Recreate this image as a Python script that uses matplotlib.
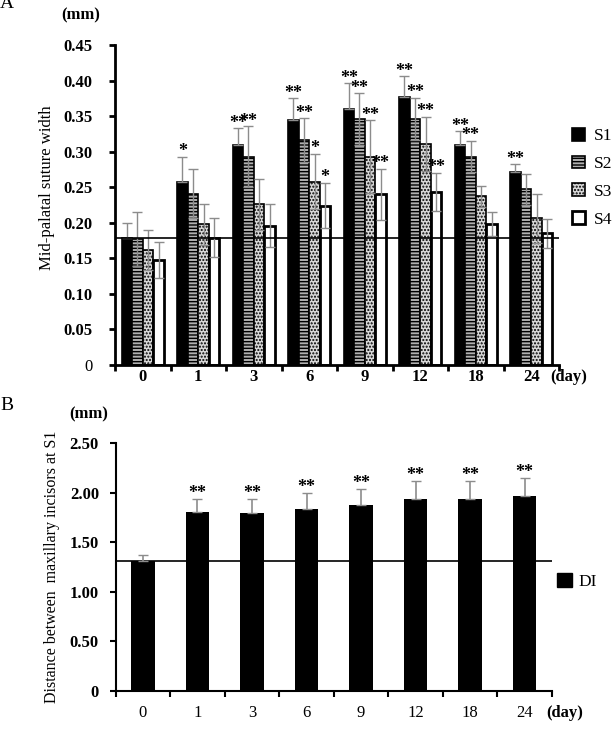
import numpy as np
import matplotlib
matplotlib.use("Agg")
from matplotlib import pyplot as plt

plt.rcParams['font.family'] = ['Liberation Serif', 'DejaVu Serif']
plt.rcParams['hatch.linewidth'] = 1.0

days = ['0', '1', '3', '6', '9', '12', '18', '24']

# panel A: mid-palatal suture width (mm), mean and upper error
series_names = ['S1', 'S2', 'S3', 'S4']
s1_mean = [0.178, 0.257, 0.309, 0.345, 0.360, 0.377, 0.309, 0.271]
s1_err = [0.022, 0.036, 0.024, 0.030, 0.036, 0.029, 0.020, 0.011]
s2_mean = [0.177, 0.241, 0.293, 0.316, 0.346, 0.346, 0.293, 0.247]
s2_err = [0.038, 0.034, 0.043, 0.031, 0.036, 0.030, 0.022, 0.022]
s3_mean = [0.162, 0.198, 0.226, 0.258, 0.293, 0.311, 0.237, 0.206]
s3_err = [0.028, 0.029, 0.036, 0.039, 0.051, 0.038, 0.015, 0.035]
s4_mean = [0.148, 0.179, 0.196, 0.224, 0.240, 0.243, 0.198, 0.185]
s4_err = [0.025, 0.027, 0.030, 0.032, 0.036, 0.027, 0.017, 0.020]
s1_sig = ['', '*', '**', '**', '**', '**', '**', '**']
s2_sig = ['', '', '**', '**', '**', '**', '**', '']
s3_sig = ['', '', '', '*', '**', '**', '', '']
s4_sig = ['', '', '', '*', '**', '**', '', '']
baseline_a = 0.178
yticks_a = [0, 0.05, 0.10, 0.15, 0.20, 0.25, 0.30, 0.35, 0.40, 0.45]

# panel B: distance between maxillary incisors at S1 (mm)
di_mean = [1.31, 1.81, 1.80, 1.84, 1.88, 1.94, 1.94, 1.97]
di_err = [0.06, 0.13, 0.14, 0.16, 0.16, 0.18, 0.18, 0.18]
di_sig = ['', '**', '**', '**', '**', '**', '**', '**']
baseline_b = 1.31
yticks_b = [0, 0.5, 1.0, 1.5, 2.0, 2.5]

fig = plt.figure(figsize=(6.15, 7.55), dpi=100)
axA = fig.add_axes([0.187, 0.5166, 0.722, 0.4238])
axB = fig.add_axes([0.188, 0.0848, 0.7096, 0.328])

x = np.arange(len(days))
w = 0.19
styles = [
    dict(facecolor='black', edgecolor='black', linewidth=1.2),
    dict(facecolor='#b0b0b0', edgecolor='black', linewidth=1.2, hatch='-----'),
    dict(facecolor='#d8d8d8', edgecolor='black', linewidth=1.2, hatch='.....'),
    dict(facecolor='white', edgecolor='black', linewidth=2.0),
]
means = [s1_mean, s2_mean, s3_mean, s4_mean]
errs = [s1_err, s2_err, s3_err, s4_err]
sigs = [s1_sig, s2_sig, s3_sig, s4_sig]

handles = []
for i in range(4):
    pos = x + (i - 1.5) * w
    b = axA.bar(pos, means[i], w, zorder=2, **styles[i])
    handles.append(b)
    err = np.array(errs[i])
    lower = np.zeros_like(err) if i == 0 else err
    axA.errorbar(pos, means[i], yerr=[lower, err], fmt='none', ecolor='#8c8c8c',
                 elinewidth=1, capsize=3.5, capthick=1, zorder=3)
    for p, m, e, s in zip(pos, means[i], err, sigs[i]):
        if s:
            axA.annotate(s, (p, m + e), xytext=(0, -2.5), textcoords='offset points',
                         ha='center', va='bottom', fontsize=13, fontweight='bold')

axA.axhline(baseline_a, color='black', linewidth=1.2, zorder=4)
axA.set_xlim(-0.5, len(days) - 0.5)
axA.set_ylim(0, 0.45)
axA.set_yticks(yticks_a)
axA.set_yticklabels(['0'] + ['%.2f' % v for v in yticks_a[1:]], fontsize=12)
for lab in axA.get_yticklabels()[1:]:
    lab.set_fontweight('bold')
axA.set_xticks(x)
axA.set_xticklabels(days, fontsize=12, fontweight='bold')
axA.set_xticks(np.arange(-0.5, len(days)), minor=True)
axA.tick_params(axis='x', which='major', length=0, pad=3)
axA.tick_params(axis='x', which='minor', length=4, width=2, direction='out')
axA.tick_params(axis='y', length=4, width=2, direction='out', pad=12)
for side in ['top', 'right']:
    axA.spines[side].set_visible(False)
for side in ['left', 'bottom']:
    axA.spines[side].set_linewidth(2)

axA.legend(handles, series_names, loc='upper left', bbox_to_anchor=(572 / 615, 1 - 128 / 755),
           bbox_transform=fig.transFigure, frameon=False, fontsize=12.5, handlelength=0.75,
           handleheight=0.75, handletextpad=0.5, labelspacing=0.65, borderpad=0, borderaxespad=0)

# panel B
axB.bar(x, di_mean, 0.43, color='black', zorder=2)
axB.errorbar(x, di_mean, yerr=[np.zeros(len(di_err)), di_err], fmt='none', ecolor='#8c8c8c',
             elinewidth=1.2, capsize=3.5, capthick=1, zorder=3)
for p, m, e, s in zip(x, di_mean, di_err, di_sig):
    if s:
        axB.annotate(s, (p, m + e), xytext=(0, -2.5), textcoords='offset points',
                     ha='center', va='bottom', fontsize=13, fontweight='bold')
axB.axhline(baseline_b, color='black', linewidth=1.2, zorder=1)
axB.set_xlim(-0.5, len(days) - 0.5)
axB.set_ylim(0, 2.5)
axB.set_yticks(yticks_b)
axB.set_yticklabels(['0'] + ['%.2f' % v for v in yticks_b[1:]], fontsize=12, fontweight='bold')
axB.set_xticks(x)
axB.set_xticklabels(days, fontsize=12)
axB.set_xticks(np.arange(-0.5, len(days)), minor=True)
axB.tick_params(axis='x', which='major', length=0, pad=10)
axB.tick_params(axis='x', which='minor', length=4, width=1.5, direction='out')
axB.tick_params(axis='y', length=4, width=1.5, direction='out', pad=8)
for side in ['top', 'right']:
    axB.spines[side].set_visible(False)
for side in ['left', 'bottom']:
    axB.spines[side].set_linewidth(1.5)

axB.legend([plt.Rectangle((0, 0), 1, 1, color='black')], ['DI'], loc='upper left',
           bbox_to_anchor=(557 / 615, 1 - 573 / 755), bbox_transform=fig.transFigure,
           frameon=False, fontsize=12.5, handlelength=0.85, handleheight=0.85,
           handletextpad=0.4, borderpad=0, borderaxespad=0)

# labels
fig.text(47 / 615, 1 - 188 / 755, 'Mid-palatal suture width', rotation=90,
         ha='center', va='center', fontsize=12)
fig.text(52 / 615, 1 - 567 / 755, 'Distance between  maxillary incisors at S1', rotation=90,
         ha='center', va='center', fontsize=11.5)
fig.text(81 / 615, 1 - 15 / 755, '(mm)', ha='center', va='center', fontsize=12, fontweight='bold')
fig.text(89 / 615, 1 - 414 / 755, '(mm)', ha='center', va='center', fontsize=12, fontweight='bold')
fig.text(550 / 615, 1 - 377 / 755, '(day)', ha='left', va='center', fontsize=12, fontweight='bold')
fig.text(546 / 615, 1 - 713 / 755, '(day)', ha='left', va='center', fontsize=12, fontweight='bold')
fig.text(0.0, 1 - 4 / 755, 'A', ha='left', va='center', fontsize=14)
fig.text(0.0, 1 - 405 / 755, 'B', ha='left', va='center', fontsize=14)

fig.savefig('out.png', dpi=100)
